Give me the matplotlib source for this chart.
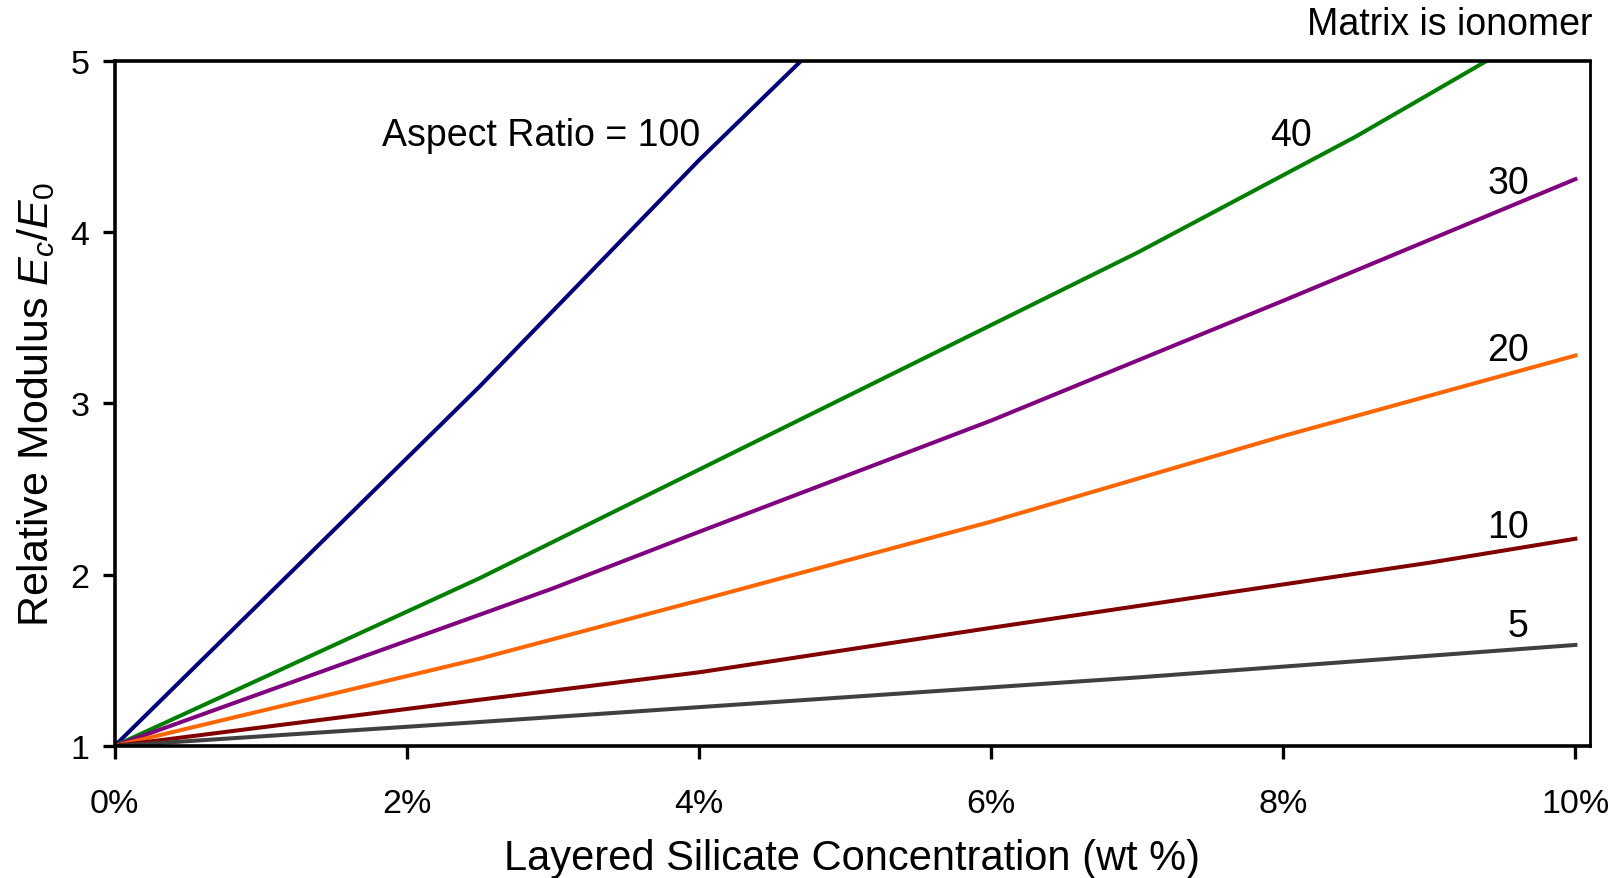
import matplotlib
matplotlib.use("Agg")
import matplotlib.pyplot as plt
from matplotlib.ticker import PercentFormatter

plt.rcParams['font.family'] = ['Liberation Sans', 'DejaVu Sans']
plt.rcParams['mathtext.fontset'] = 'custom'
plt.rcParams['mathtext.rm'] = 'Liberation Sans'
plt.rcParams['mathtext.it'] = 'Liberation Sans:italic'

# silicate concentration (fraction) and relative modulus for each aspect ratio
x_100 = [0, 0.025, 0.04, 0.05]
y_100 = [1, 3.10, 4.42, 5.25]
x_40 = [0, 0.025, 0.07, 0.085, 0.10]
y_40 = [1, 1.98, 3.88, 4.56, 5.30]
x_30 = [0, 0.03, 0.04, 0.06, 0.08, 0.10]
y_30 = [1, 1.92, 2.25, 2.90, 3.60, 4.31]
x_20 = [0, 0.025, 0.04, 0.06, 0.08, 0.10]
y_20 = [1, 1.51, 1.85, 2.31, 2.81, 3.28]
x_10 = [0, 0.025, 0.04, 0.06, 0.09, 0.10]
y_10 = [1, 1.27, 1.43, 1.69, 2.07, 2.21]
x_5 = [0, 0.025, 0.07, 0.10]
y_5 = [1, 1.14, 1.40, 1.59]

series = [
    (x_100, y_100, '#000080'),
    (x_40, y_40, '#008000'),
    (x_30, y_30, '#800080'),
    (x_20, y_20, '#FF6600'),
    (x_10, y_10, '#800000'),
    (x_5, y_5, '#404040'),
]

fig = plt.figure(figsize=(16.18, 8.79), dpi=100)
ax = fig.add_axes([0.0708, 0.1502, 0.9827 - 0.0708, 0.9295 - 0.1502])

for xs, ys, c in series:
    ax.plot(xs, ys, color=c, linewidth=2.9, solid_joinstyle='round')

ax.set_xlim(0, 0.1010)
ax.set_ylim(1, 5)
ax.set_xticks([0, 0.02, 0.04, 0.06, 0.08, 0.10])
ax.set_yticks([1, 2, 3, 4, 5])
ax.xaxis.set_major_formatter(PercentFormatter(xmax=1, decimals=0))

for s in ['left', 'bottom', 'top']:
    ax.spines[s].set_linewidth(2.6)
ax.spines['right'].set_linewidth(2.0)

ax.tick_params(axis='both', direction='out', length=9, width=2.4, labelsize=24.5)
ax.tick_params(axis='x', pad=21)
ax.tick_params(axis='y', pad=9)

ax.set_xlabel('Layered Silicate Concentration (wt %)', fontsize=30, labelpad=14)
ax.set_ylabel(r'Relative Modulus $\mathit{E}_\mathit{c}/\mathit{E}_\mathrm{0}$', fontsize=31, labelpad=10)

ax.text(0.0183, 4.57, 'Aspect Ratio = 100', fontsize=27, ha='left', va='center')
ax.text(0.0805, 4.57, '40', fontsize=27, ha='center', va='center')
ax.text(0.0954, 4.29, '30', fontsize=27, ha='center', va='center')
ax.text(0.0954, 3.31, '20', fontsize=27, ha='center', va='center')
ax.text(0.0954, 2.28, '10', fontsize=27, ha='center', va='center')
ax.text(0.0961, 1.70, '5', fontsize=27, ha='center', va='center')

fig.text(0.984, 0.972, 'Matrix is ionomer', fontsize=27, ha='right', va='center')

fig.savefig('out.png', dpi=100)
